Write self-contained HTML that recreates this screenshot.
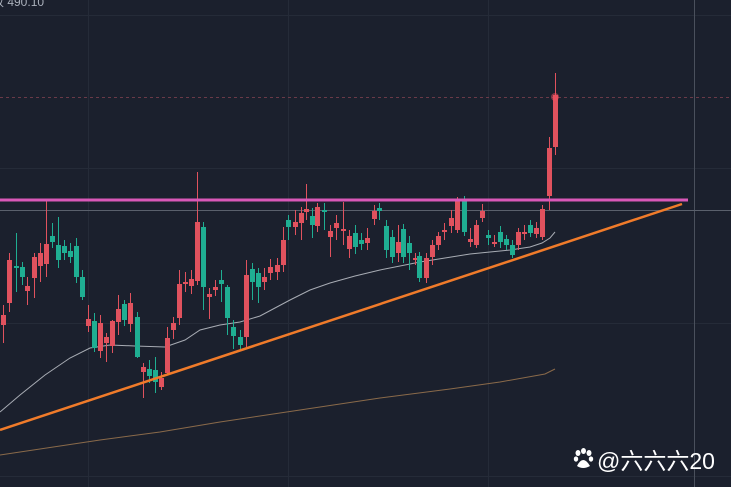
<!DOCTYPE html>
<html><head><meta charset="utf-8"><style>
html,body{margin:0;padding:0;background:#1b202d;}
svg{display:block}
</style></head><body>
<svg id="s" width="731" height="487" xmlns="http://www.w3.org/2000/svg">
<rect width="731" height="487" fill="#1b202d"/>
<g stroke="#252b38" stroke-width="1">
<line x1="0" y1="15.5" x2="731" y2="15.5"/>
<line x1="0" y1="168.5" x2="731" y2="168.5"/>
<line x1="0" y1="323.5" x2="731" y2="323.5"/>
<line x1="0" y1="476.5" x2="731" y2="476.5"/>
<line x1="88.5" y1="0" x2="88.5" y2="487"/>
<line x1="288.5" y1="0" x2="288.5" y2="487"/>
<line x1="488.5" y1="0" x2="488.5" y2="487"/>
</g>
<line x1="694.5" y1="0" x2="694.5" y2="487" stroke="#4a505c" stroke-width="1"/>
<line x1="0" y1="210.5" x2="731" y2="210.5" stroke="#5a606c" stroke-width="1"/>
<line x1="0" y1="97.5" x2="731" y2="97.5" stroke="#6a3a48" stroke-width="1" stroke-dasharray="3,3"/>
<text x="-8" y="6" fill="#aab0bb" font-family="Liberation Sans, Noto Sans CJK SC, sans-serif" font-size="12">收 490.10</text>
<polyline fill="none" stroke="#8a6a4a" stroke-width="1" points="0,455 60,446 100,440 160,432 220,422 300,410 380,398 450,389 500,382 545,374 555,369"/>
<polyline fill="none" stroke="#a8acb4" stroke-width="1" points="0,412 20,395 45,375 70,358 90,348 110,345 135,346 165,347 185,340 200,330 220,325 240,322 260,316 290,300 310,290 330,283 355,276 380,270 400,266 420,262 445,258 470,254 490,252 510,250 530,247 542,243 550,238 555,232"/>
<g id="c"></g>
<line x1="0" y1="200" x2="688" y2="200" stroke="#d958b8" stroke-width="3"/>
<line x1="0" y1="430" x2="682" y2="204" stroke="#f07b2a" stroke-width="2.5"/>
<circle cx="555" cy="97" r="4" fill="#f05060" opacity="0.5"/>
<g transform="translate(573,449)" fill="#fff">
<ellipse cx="5" cy="4" rx="2.5" ry="3"/><ellipse cx="10.5" cy="2" rx="2.5" ry="3"/><ellipse cx="16" cy="4" rx="2.5" ry="3"/><ellipse cx="3" cy="10" rx="2.2" ry="2.6"/><ellipse cx="18" cy="10" rx="2.2" ry="2.6"/>
<path d="M4,17 Q10,5 17,17 Q10,21 4,17Z"/>
</g>
<text x="597" y="469" fill="#fff" font-family="Liberation Sans, Noto Sans CJK SC, sans-serif" font-size="23">@六六六20</text>
</svg>
<script>
var R="#e0525e",G="#1fae92";
var d=[
[3,315,325,305,343,R],[9,260,303,253,312,R],[16,266,268,233,292,G],[22,267,277,262,285,G],[27,286,291,277,305,R],
[34,257,278,253,298,R],[40,253,266,243,282,R],[46,244,264,199,277,R],[52,236,242,223,248,G],[58,245,260,217,268,G],
[64,246,253,240,260,G],[70,251,257,243,263,G],[76,246,277,238,283,G],[82,277,297,270,300,G],[88,319,326,305,332,R],
[94,321,348,313,352,G],[100,323,351,315,358,R],[106,337,343,333,362,R],[112,321,346,320,353,R],[118,309,322,295,335,R],
[124,304,320,300,326,G],[130,303,324,293,332,R],[137,317,357,312,358,G],[143,367,372,363,398,R],[149,369,376,360,383,G],
[155,370,382,357,393,G],[161,378,387,372,390,R],[167,338,373,327,375,R],[173,323,330,317,339,R],[179,284,318,270,325,R],
[185,282,284,272,292,R],[191,279,286,270,294,R],[197,222,281,172,285,R],[203,227,287,222,310,G],[209,294,297,288,319,R],
[215,287,290,280,296,R],[221,280,284,270,302,G],[227,287,318,285,335,G],[233,327,336,320,349,G],[240,337,345,330,350,G],
[246,275,337,260,347,R],[252,269,282,263,300,G],[258,273,287,268,303,G],[264,277,282,268,290,R],[270,267,273,259,280,R],
[277,265,272,258,280,R],[283,240,265,227,272,R],[288,220,227,215,240,G],[295,222,227,210,235,R],[301,213,223,207,240,R],
[306,209,212,184,220,R],[312,216,225,208,238,G],[317,207,226,203,232,R],[324,210,212,203,230,G],[330,231,237,225,257,R],
[336,223,228,215,240,R],[343,229,231,202,245,R],[349,236,249,230,258,R],[355,233,247,225,254,G],[361,240,244,233,250,G],
[367,238,243,228,250,R],[374,211,219,205,225,R],[379,208,211,203,220,G],[386,226,250,220,258,G],[392,237,257,230,263,G],
[398,242,253,225,262,R],[403,229,257,224,263,G],[409,243,253,236,270,G],[415,258,260,253,265,R],[419,256,278,252,282,G],
[426,258,278,253,283,R],[432,245,257,240,265,R],[438,236,245,232,250,R],[444,230,232,223,240,R],[451,218,226,210,233,R],
[457,199,230,197,233,R],[464,201,232,196,236,G],[470,239,242,228,247,R],[476,225,245,220,248,R],[482,211,218,204,222,R],
[488,235,238,230,245,G],[494,242,243,235,247,R],[500,232,242,226,248,G],[506,239,245,235,250,G],[512,245,255,240,258,G],
[518,232,245,228,250,R],[524,232,233,225,240,R],[530,225,233,220,237,G],[536,228,234,222,238,R],[542,209,237,205,240,R],
[549,148,196,137,210,R],[555,95,147,73,155,R]];
var s="";
d.forEach(function(c){
s+='<line x1="'+(c[0]+.5)+'" y1="'+c[3]+'" x2="'+(c[0]+.5)+'" y2="'+c[4]+'" stroke="'+c[5]+'" stroke-width="1"/>';
s+='<rect x="'+(c[0]-2)+'" y="'+c[1]+'" width="5" height="'+Math.max(2,c[2]-c[1])+'" fill="'+c[5]+'"/>';
});
document.getElementById("c").innerHTML=s;
</script>
</body></html>
